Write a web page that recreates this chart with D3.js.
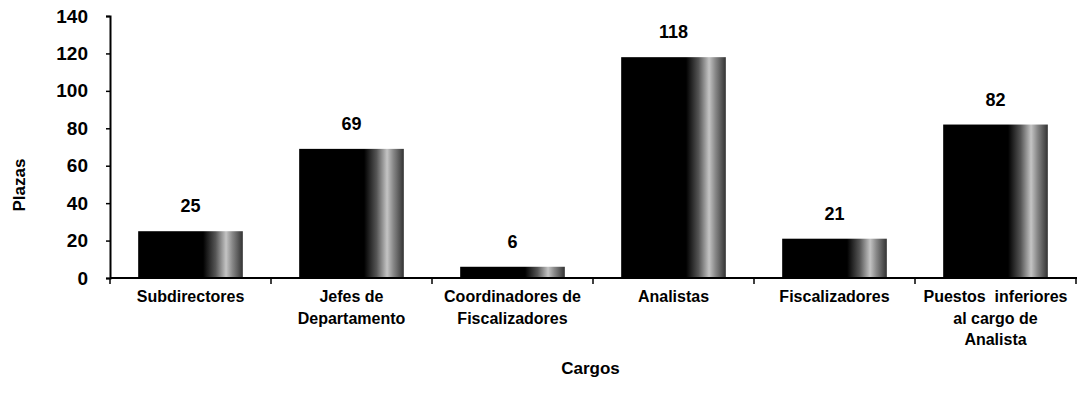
<!DOCTYPE html>
<html><head><meta charset="utf-8">
<script src="https://cdn.jsdelivr.net/npm/d3@7"></script>
<style>body{margin:0;background:#fff}</style>
</head><body>
<svg id="c" width="1077" height="403"></svg>
<script>
const categories = [
  ["Subdirectores"],
  ["Jefes de","Departamento"],
  ["Coordinadores de","Fiscalizadores"],
  ["Analistas"],
  ["Fiscalizadores"],
  ["Puestos  inferiores","al cargo de","Analista"]
];
const values = [25, 69, 6, 118, 21, 82];
const yTicks = [0, 20, 40, 60, 80, 100, 120, 140];
const xTitle = "Cargos";
const yTitle = "Plazas";

const svg = d3.select("#c");
const m = {l:110, r:1, t:16, b:125};
const W = 1077, H = 403;
const x = d3.scaleBand().domain(d3.range(values.length)).range([m.l, W - m.r]).paddingInner(0.35).paddingOuter(0.175);
const y = d3.scaleLinear().domain([0, 140]).range([H - m.b, m.t]);

const defs = svg.append("defs");
const g = defs.append("linearGradient").attr("id","bg").attr("x1","0").attr("x2","1").attr("y1","0").attr("y2","0");
[[0,"#000"],[0.62,"#000"],[0.74,"#555"],[0.84,"#c4c4c4"],[0.9,"#888"],[1,"#333"]].forEach(s=>
  g.append("stop").attr("offset",s[0]).attr("stop-color",s[1]));

const font = "'Liberation Sans',Arial,sans-serif";

svg.append("g").selectAll("rect").data(values).join("rect")
  .attr("x",(d,i)=>x(i)).attr("width",x.bandwidth())
  .attr("y",d=>y(d)).attr("height",d=>y(0)-y(d))
  .attr("fill","url(#bg)");

// y axis
const ya = svg.append("g").attr("transform",`translate(${m.l},0)`)
  .call(d3.axisLeft(y).tickValues(yTicks).tickSize(4).tickPadding(18));
ya.select(".domain").attr("stroke","#000").attr("stroke-width",2);
ya.selectAll(".tick line").attr("stroke-width",1.5);
ya.selectAll("text").attr("font-family",font).attr("font-weight","bold").attr("font-size",19).attr("fill","#000");

// x axis line and ticks at band boundaries
const bounds = d3.range(values.length+1).map(i => m.l + i*(W - m.r - m.l)/values.length);
svg.append("line").attr("x1",m.l).attr("x2",W).attr("y1",y(0)).attr("y2",y(0)).attr("stroke","#000").attr("stroke-width",2);
svg.append("g").selectAll("line").data(bounds).join("line")
  .attr("x1",d=>d).attr("x2",d=>d).attr("y1",y(0)).attr("y2",y(0)+6).attr("stroke","#000").attr("stroke-width",1.5);

// category labels
const cl = svg.append("g").selectAll("text").data(categories).join("text")
  .attr("x",(d,i)=>x(i)+x.bandwidth()/2).attr("y",302)
  .attr("text-anchor","middle").attr("font-family",font).attr("font-weight","bold").attr("font-size",16).attr("fill","#000")
  .attr("xml:space","preserve");
cl.selectAll("tspan").data(d=>d).join("tspan")
  .attr("x",function(){return this.parentNode.getAttribute("x");})
  .attr("dy",(d,i)=>i===0?0:21.5).text(d=>d);

// value labels
svg.append("g").selectAll("text").data(values).join("text")
  .attr("x",(d,i)=>x(i)+x.bandwidth()/2).attr("y",d=>y(d)-19)
  .attr("text-anchor","middle").attr("font-family",font).attr("font-weight","bold").attr("font-size",18).attr("fill","#000")
  .text(d=>d);

svg.append("text").attr("x",(m.l+W)/2 - 3).attr("y",374).attr("text-anchor","middle")
  .attr("font-family",font).attr("font-weight","bold").attr("font-size",17).text(xTitle);
svg.append("text").attr("transform","translate(25,185) rotate(-90)").attr("text-anchor","middle")
  .attr("font-family",font).attr("font-weight","bold").attr("font-size",17).text(yTitle);
</script>
</body></html>
